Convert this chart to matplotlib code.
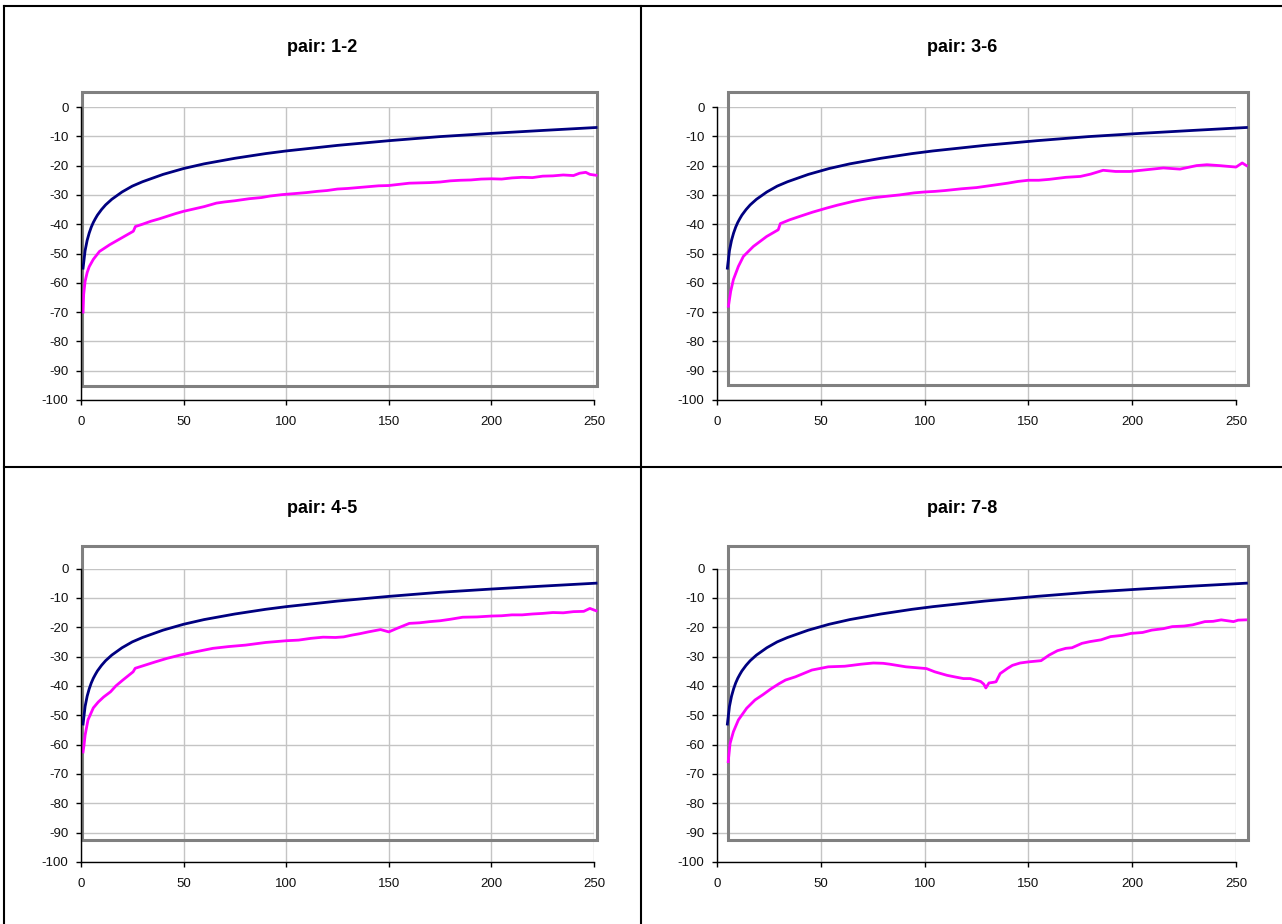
import matplotlib
matplotlib.use("Agg")
import matplotlib.pyplot as plt
from matplotlib.lines import Line2D
from matplotlib.patches import Rectangle
import numpy as np

plt.rcParams['font.family'] = ['Liberation Sans', 'DejaVu Sans']
plt.rcParams['axes.unicode_minus'] = False

# ---- data ----
titles = ['pair: 1-2', 'pair: 3-6', 'pair: 4-5', 'pair: 7-8']

# smooth (navy) curve, sampled
blue_x = [1, 2, 3, 4, 5, 6, 7, 8, 10, 12, 15, 20, 25, 30, 40, 50, 60, 75, 90,
          100, 125, 150, 175, 200, 225, 251]
blue_top = [-55.0, -49.0, -45.5, -43.0, -41.0, -39.4, -38.1, -36.9, -35.0, -33.4,
            -31.5, -29.0, -27.0, -25.5, -23.0, -21.0, -19.4, -17.5, -15.9, -15.0,
            -13.1, -11.5, -10.1, -9.0, -8.0, -7.0]
blue_bottom = [-53.0, -47.0, -43.5, -41.0, -39.0, -37.4, -36.1, -34.9, -33.0, -31.4,
               -29.5, -27.0, -25.0, -23.5, -21.0, -19.0, -17.4, -15.5, -13.9, -13.0,
               -11.1, -9.5, -8.1, -7.0, -6.0, -5.0]
# the right-hand charts start a few samples later
x_offset = [0, 4, 0, 4]

# measured (magenta) curves
pink_12_x = [1, 1.3, 2, 3, 4, 6, 9, 14, 19, 25.5, 26.5, 30, 34, 38, 42, 46, 50, 55,
             60, 66, 70, 75, 82, 88, 92, 98, 105, 110, 115, 120, 125, 130, 135, 140,
             145, 150, 155, 160, 165, 170, 175, 180, 185, 190, 195, 200, 205, 210,
             215, 220, 225, 230, 235, 240, 243, 246, 248, 251]
pink_12_y = [-70.0, -64.0, -59.5, -56.5, -54.5, -52.0, -49.3, -47.0, -45.0, -42.4,
             -40.8, -40.0, -39.0, -38.2, -37.3, -36.4, -35.6, -34.8, -34.0, -32.8,
             -32.4, -32.0, -31.3, -30.9, -30.4, -29.9, -29.5, -29.2, -28.8, -28.5,
             -28.0, -27.8, -27.5, -27.2, -26.9, -26.8, -26.4, -26.0, -25.9, -25.8,
             -25.6, -25.2, -25.0, -24.9, -24.6, -24.5, -24.6, -24.2, -24.0, -24.1,
             -23.6, -23.5, -23.2, -23.4, -22.6, -22.3, -23.0, -23.3]

pink_36_x = [5.5, 6.6, 7.9, 10.3, 12.7, 17.5, 23.9, 29.5, 30.5, 35, 40, 46, 52.8, 58,
             65.7, 70, 75, 80, 88, 95, 100, 105, 110, 118, 125, 132, 140, 145, 150,
             155, 160, 168, 175, 180, 186, 192, 199, 207, 215, 223, 231, 236, 242,
             250, 253, 255]
pink_36_y = [-68.0, -62.9, -58.9, -54.4, -51.0, -47.6, -44.2, -41.9, -39.8, -38.5,
             -37.3, -35.9, -34.5, -33.5, -32.2, -31.6, -31.0, -30.6, -30.0, -29.3,
             -29.0, -28.8, -28.5, -27.9, -27.5, -26.8, -26.0, -25.4, -25.0, -25.0,
             -24.7, -24.0, -23.7, -22.9, -21.6, -22.0, -22.0, -21.4, -20.8, -21.2,
             -20.0, -19.7, -20.0, -20.5, -19.1, -20.0]

pink_45_x = [1, 1.5, 2, 3.4, 6, 8.4, 11, 14.4, 17, 20.4, 25.4, 26.4, 30, 36.3, 42,
             48.3, 55, 64.3, 72, 80.2, 90, 100.2, 106, 112, 118, 124, 128, 132, 136,
             140, 146, 150, 154, 160, 165, 170, 175, 180, 186, 193, 200, 205, 210,
             215, 220, 225, 230, 235, 240, 245, 248, 251]
pink_45_y = [-62.5, -60.0, -56.8, -51.6, -47.5, -45.5, -43.8, -42.0, -40.0, -38.0,
             -35.2, -34.0, -33.2, -31.8, -30.6, -29.5, -28.5, -27.2, -26.6, -26.1,
             -25.2, -24.6, -24.4, -23.8, -23.4, -23.5, -23.3, -22.7, -22.2, -21.6,
             -20.8, -21.6, -20.4, -18.7, -18.5, -18.1, -17.8, -17.3, -16.6, -16.5,
             -16.2, -16.1, -15.8, -15.8, -15.5, -15.3, -15.0, -15.1, -14.7, -14.6,
             -13.6, -14.4]

pink_78_x = [5.4, 6.3, 7.9, 10.3, 14.3, 18.3, 22.1, 26, 30, 33, 37.8, 45.7, 53.6,
             61.5, 65, 69.4, 75.3, 80, 83.2, 91, 96, 100.9, 104.9, 110.8, 115, 118.7,
             122, 124.6, 127, 128.5, 129.5, 131, 133, 134.4, 136.4, 140, 142.3, 146,
             150.2, 156.1, 160, 164, 168, 171, 175.8, 179.7, 185, 189.6, 195, 199.5,
             205, 209.4, 215, 219.3, 225, 229.1, 235, 239, 242.9, 248.8, 251, 254.7]
pink_78_y = [-65.8, -59.6, -55.6, -51.6, -47.6, -44.8, -43.0, -41.0, -39.2, -38.0,
             -36.9, -34.6, -33.5, -33.3, -33.0, -32.6, -32.2, -32.3, -32.6, -33.5,
             -33.8, -34.1, -35.2, -36.4, -37.0, -37.5, -37.5, -38.0, -38.5, -39.4,
             -40.7, -39.0, -38.8, -38.6, -35.8, -34.0, -33.0, -32.2, -31.8, -31.4,
             -29.5, -28.0, -27.2, -27.0, -25.5, -24.9, -24.3, -23.2, -22.8, -22.1,
             -21.8, -21.0, -20.5, -19.8, -19.6, -19.2, -18.1, -18.0, -17.5, -18.1,
             -17.6, -17.5]

blue_series = [blue_top, blue_top, blue_bottom, blue_bottom]
pink_series = [(pink_12_x, pink_12_y), (pink_36_x, pink_36_y),
               (pink_45_x, pink_45_y), (pink_78_x, pink_78_y)]

# ---- layout (figure pixels, 1282x924) ----
W, H = 1282, 924
# axes: left px, width px, top px, bottom px
axes_px = [(81, 513, 107, 400), (717, 519, 107, 400),
           (81, 513, 568.5, 862), (717, 519, 568.5, 862)]
title_px = [(322, 52), (962, 52), (322, 513), (962, 513)]
# the grey plot-area frame in data units: x0, x1, y0, y1
frames = [(0.7, 251.7, -95.1, 5.2), (5.2, 255.7, -95.0, 5.0),
          (0.7, 251.7, -92.6, 7.6), (5.2, 255.7, -92.6, 7.6)]

fig = plt.figure(figsize=(W / 100, H / 100), dpi=100)

for i in range(4):
    left, width, top, bottom = axes_px[i]
    ax = fig.add_axes([left / W, 1 - bottom / H, width / W, (bottom - top) / H])
    ax.set_xlim(0, 250)
    ax.set_ylim(-100, 0)
    ax.set_xticks(np.arange(0, 251, 50))
    ax.set_yticks(np.arange(-100, 1, 10))
    ax.grid(True, color='#c4c4c4', lw=1.0, zorder=0)
    ax.set_axisbelow(True)
    for s in ['top', 'right']:
        ax.spines[s].set_visible(False)
    for s in ['left', 'bottom']:
        ax.spines[s].set_color('black')
        ax.spines[s].set_linewidth(1.0)
        ax.spines[s].set_zorder(5)
    ax.tick_params(direction='out', length=3.5, width=1.0, color='black',
                   labelsize=9.5, labelcolor='#111111')
    ax.tick_params(axis='y', pad=5.5)
    ax.tick_params(axis='x', pad=8)

    x0, x1, y0, y1 = frames[i]
    ax.add_patch(Rectangle((x0, y0), x1 - x0, y1 - y0, fill=False,
                           edgecolor='#808080', lw=2.2, clip_on=False, zorder=2))

    bx = np.array(blue_x) + x_offset[i]
    ax.plot(bx, blue_series[i], color='#000080', lw=2.0, clip_on=False, zorder=4)
    px, py = pink_series[i]
    ax.plot(px, py, color='#ff00ff', lw=2.0, clip_on=False, zorder=3)

    tx, ty = title_px[i]
    fig.text(tx / W, 1 - ty / H, titles[i], ha='center', va='baseline',
             fontsize=13, fontweight='bold')

# cell borders
def border(xa, ya, xb, yb):
    fig.add_artist(Line2D([xa / W, xb / W], [1 - ya / H, 1 - yb / H],
                          transform=fig.transFigure, color='black', lw=1.5))

border(4, 6, W, 6)
border(4, 467, W, 467)
border(4, 6, 4, H)
border(641, 6, 641, H)

fig.savefig('out.png', dpi=100)
